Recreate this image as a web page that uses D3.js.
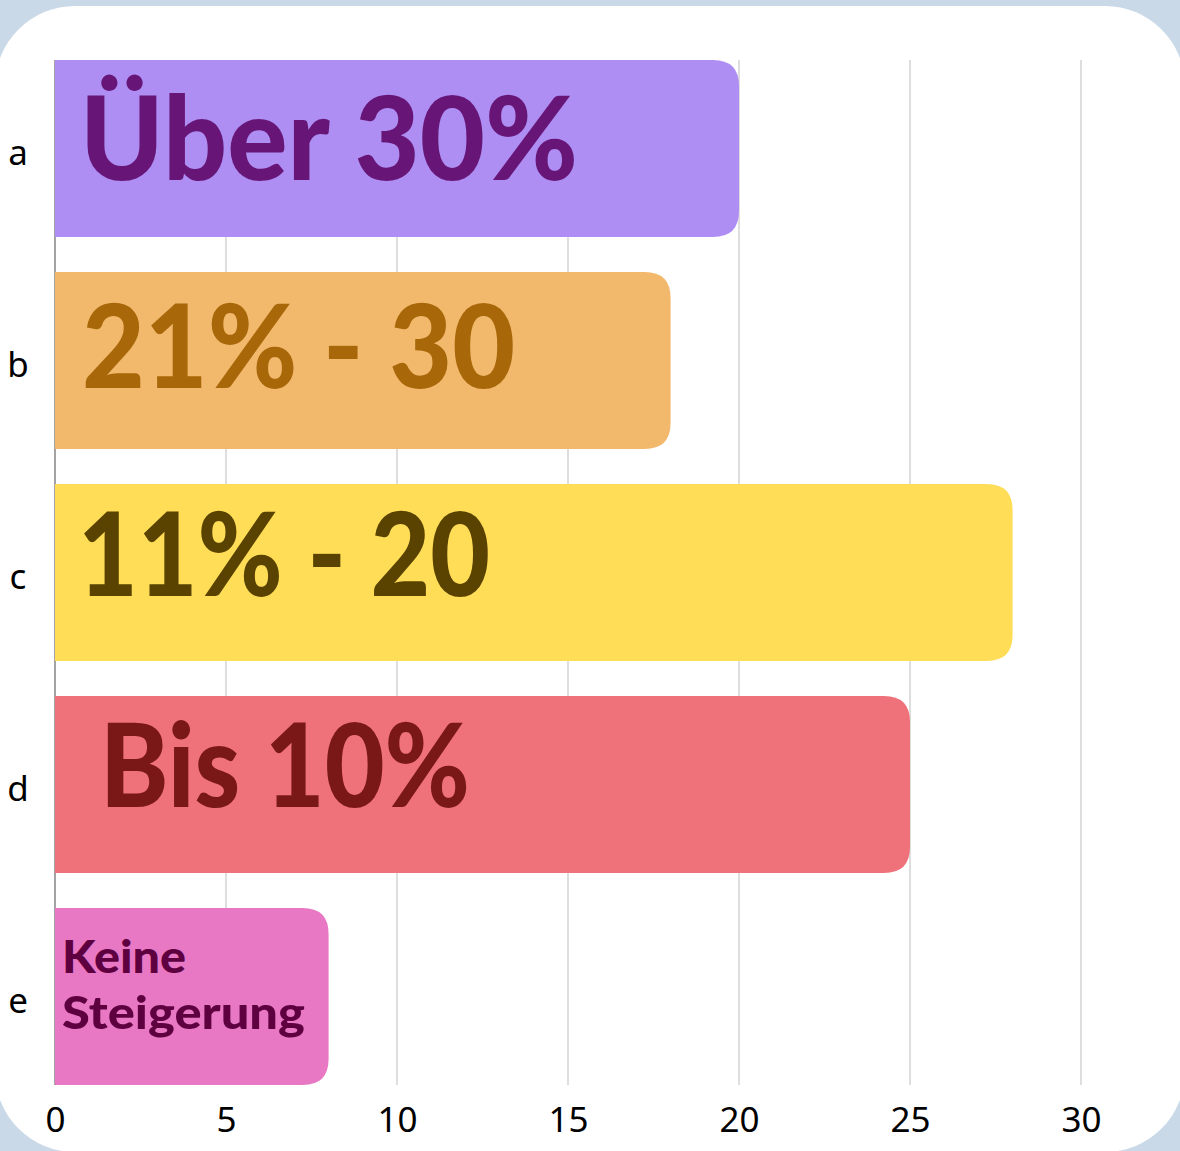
<!DOCTYPE html>
<html lang="de">
<head>
  <meta charset="UTF-8">
  <title>Steigerung</title>
  <style>
    html, body { margin: 0; padding: 0; background: #c9d9e8; }
    svg { display: block; }
  </style>
</head>
<body>
  <svg id="svg" width="1180" height="1151"></svg>

  <script src="https://d3js.org/d3.v7.min.js"></script>
  <script>
    // data
    const categories = ['a', 'b', 'c', 'd', 'e']
    const values = [20, 18, 28, 25, 8]
    const labels = [['Über 30%'], ['21% - 30'], ['11% - 20'], ['Bis 10%'], ['Keine', 'Steigerung']]
    const ticks = [0, 5, 10, 15, 20, 25, 30]

    const barColors = ['#af8ef4', '#f2b86c', '#ffdd57', '#ef727a', '#e878c4']
    const textColors = ['#671677', '#a8680a', '#5a4300', '#7a1717', '#5e0040']

    const svg = d3.select('#svg')

    // white card, corners just visible in the frame
    svg.append('rect')
      .attr('x', -5).attr('y', 6)
      .attr('width', 1190).attr('height', 1146)
      .attr('rx', 80)
      .attr('fill', '#fff')

    const x = d3.scaleLinear()
      .domain([0, 30])
      .range([55, 1081])

    const y = d3.scaleBand()
      .domain(categories)
      .range([60, 1085])
      .paddingInner(0.165)
      .paddingOuter(0)

    // gridlines
    svg.append('g')
      .selectAll('line')
      .data(ticks.slice(1))
      .enter()
      .append('line')
      .attr('x1', d => x(d)).attr('x2', d => x(d))
      .attr('y1', 60).attr('y2', 1085)
      .attr('stroke', '#c8c8c8')
      .attr('stroke-width', 1.2)

    // axis line
    svg.append('line')
      .attr('x1', x(0)).attr('x2', x(0))
      .attr('y1', 60).attr('y2', 1085)
      .attr('stroke', '#666')
      .attr('stroke-width', 1.2)

    const xAxis = svg.append('g')
      .attr('transform', 'translate(0,1105)')
      .call(d3.axisBottom(x).tickValues(ticks).tickSize(0).tickPadding(0))
    xAxis.select('.domain').remove()
    xAxis.selectAll('text')
      .attr('dy', '0.78em')
      .style('font-family', "'Noto Sans', sans-serif")
      .style('font-size', '35px')
      .attr('fill', '#000')

    svg.append('g')
      .selectAll('text')
      .data(categories)
      .enter()
      .append('text')
      .attr('x', 18)
      .attr('y', d => y(d) + y.bandwidth() / 2 + 4)
      .attr('dy', '0.35em')
      .attr('text-anchor', 'middle')
      .style('font-family', "'Noto Sans', sans-serif")
      .style('font-size', '35px')
      .text(d => d)

    // bars: square on the left, rounded on the right
    const r = 26
    function barPath(x0, y0, x1, h) {
      return `M${x0},${y0} H${x1 - r} Q${x1},${y0} ${x1},${y0 + r} V${y0 + h - r} Q${x1},${y0 + h} ${x1 - r},${y0 + h} H${x0} Z`
    }

    const data = categories.map((c, i) => ({ c, v: values[i], lines: labels[i], i }))

    svg.append('g')
      .selectAll('path')
      .data(data)
      .enter()
      .append('path')
      .attr('d', d => barPath(x(0), y(d.c), x(d.v), y.bandwidth()))
      .attr('fill', d => barColors[d.i])

    // label placement inside the bars
    const labelX = [80, 82, 78, 100, 62]
    const labelBase = [180, 388, 596, 807, 973]
    const labelSize = [116, 116, 116, 116, 46]
    const labelLen = [[498], [433], [412], [370], [124, 243]]
    const lineGap = 56

    data.forEach(d => {
      d.lines.forEach((t, k) => {
        svg.append('text')
          .attr('x', labelX[d.i])
          .attr('y', labelBase[d.i] + k * lineGap)
          .attr('textLength', labelLen[d.i][k])
          .attr('lengthAdjust', 'spacingAndGlyphs')
          .attr('fill', textColors[d.i])
          .style('font-family', "Lato, 'Noto Sans', sans-serif")
          .style('font-weight', 900)
          .style('font-size', labelSize[d.i] + 'px')
          .text(t)
      })
    })
  </script>
</body>
</html>
